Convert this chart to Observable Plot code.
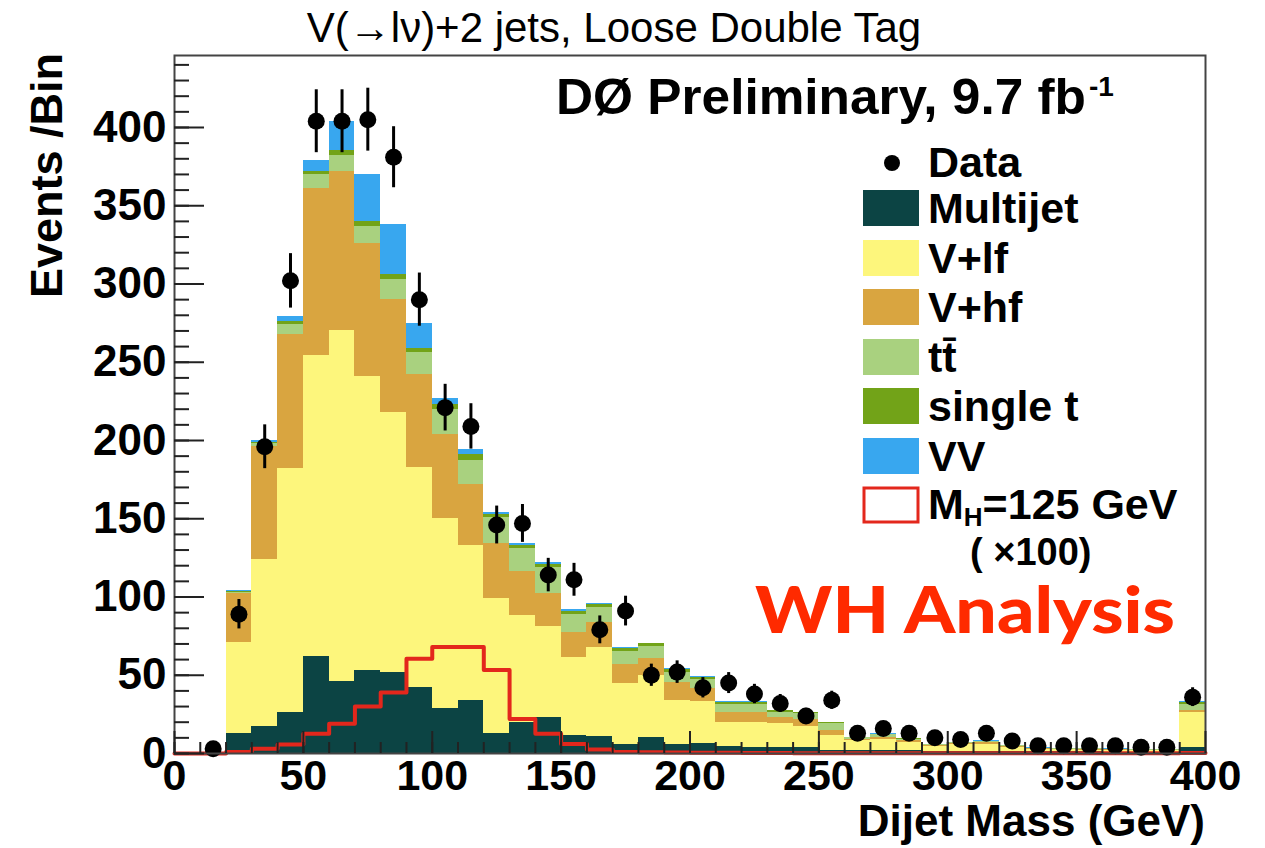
<!DOCTYPE html>
<html>
<head>
<meta charset="utf-8">
<script src="https://cdn.jsdelivr.net/npm/d3@7"></script>
<script src="https://cdn.jsdelivr.net/npm/@observablehq/plot@0.6"></script>
<style>
  html, body { margin: 0; padding: 0; background: white; }
  #chart { width: 1265px; height: 848px; }
</style>
</head>
<body>
<div id="chart"></div>
<script>
// ---- Data (events per 10 GeV bin) ----
const binLo = [0,10,20,30,40,50,60,70,80,90,100,110,120,130,140,150,160,170,180,190,
               200,210,220,230,240,250,260,270,280,290,300,310,320,330,340,350,360,370,380,390];
const binWidth = 10;

const seriesNames = ["Multijet", "V+lf", "V+hf", "tt\u0304", "single t", "VV"];
const seriesColors = ["#0c4444", "#fdf67c", "#d9a540", "#a9d17f", "#72a318", "#38a7ef"];

const multijet = [0,0,13,17,26,62,46,53,52,42, 29,34,13,20,23,11.5,11,6,10,6, 6.5,4.5,4,4,4,2,2,2,2,1.5, 1.5,1.5,1,1,1,1,0.8,0.8,0.8,4];
const vlf      = [0,0,58,107,156,192,224,188,166,141, 121,99,86,68,58,50,57,38.5,40,28, 26.5,15.5,16,15,13,9.5,6,7,5,3, 4,4.5,2.8,1.6,1.4,1.2,1.2,1.0,0.9,22];
const vhf      = [0,0,31,72,86,107,102,85,72,59, 54,39,35,28,21,15.5,16,12.5,10.5,11.5, 8.5,6.5,6.5,4,4.5,3.2,1,1.5,1,0.5, 0.8,1,0.5,0.4,0.4,0.4,0.3,0.3,0.3,1.5];
const ttbar    = [0,0,1,2,6,9,10,11,13,14, 16,15,17,15,17,12,9,8,8,6.5, 5.5,5,5,3.5,4,4.3,1,1.5,1,0.5, 0.7,0.7,0.5,0.4,0.4,0.4,0.4,0.4,0.3,4];
const singleT  = [0,0,0.5,1,2,2,3,3,3,3, 3,4,2,2,2,2,2,2,1.5,1.5, 1.5,1,1,0.7,0.7,0.7,0.3,0.4,0.3,0.2, 0.2,0.2,0.2,0.1,0.1,0.1,0.1,0.1,0.1,0.8];
const vv       = [0,0,0.5,1,3,7,19,30,32,16, 4,3,1,1,1,1,1,0.5,0.5,0.5, 0.5,0.5,0.5,0.3,0.3,0.3,0.2,0.2,0.2,0.1, 0.1,0.1,0,0.1,0.1,0.1,0.1,0.1,0.1,0.7];

const dataCounts = [0,3,89,196,302,404,404,405,381,290, 221,209,146,147,114,111,79,91,50,52, 42,45,38,32,24,34,13,16,13,10, 9,13,8,5,5,5,5,4,4,36];
const dataErrors = [0,1.7,9.4,14,17.4,20.1,20.1,20.1,19.5,17, 14.9,14.5,12.1,12.1,10.7,10.5,8.9,9.5,7.1,7.2, 6.5,6.7,6.2,5.7,4.9,5.8,3.6,4,3.6,3.2, 3,3.6,2.8,2.2,2.2,2.2,2.2,2,2,6];

// M_H = 125 GeV signal, scaled x100
const signal = [0,0,1,3,5.7,12.6,19,30,39,60.5, 68,68,53.4,22,12.6,6,2.5,1,0.8,0.6, 0.5,0.4,0.3,0.3,0.2,0.2,0.2,0.1,0.1,0.1, 0.1,0.1,0.1,0.1,0.1,0.1,0.1,0.1,0.1,0.3];

// Axis ticks
const xMajor = [0,50,100,150,200,250,300,350,400];
const xMinor = binLo;
const yMajor = [0,50,100,150,200,250,300,350,400];
const yMinor = [0,10,20,30,40,50,60,70,80,90,100,110,120,130,140,150,160,170,180,190,200,
                210,220,230,240,250,260,270,280,290,300,310,320,330,340,350,360,370,380,390,400,410,420,430,440];

// ---- Build tables ----
const seriesValues = [multijet, vlf, vhf, ttbar, singleT, vv];
const stackRows = [];
binLo.forEach((lo, i) => {
  seriesNames.forEach((s, k) => {
    stackRows.push({lo, hi: lo + binWidth, series: s, value: seriesValues[k][i]});
  });
});
const sigPts = [];
binLo.forEach((lo, i) => {
  sigPts.push({x: lo, y: signal[i]});
  sigPts.push({x: lo + binWidth, y: signal[i]});
});
const dataRows = binLo.map((lo, i) => ({
  mid: lo + binWidth / 2, v: dataCounts[i], lo: dataCounts[i] - dataErrors[i], hi: dataCounts[i] + dataErrors[i]
})).filter(d => d.v > 0);

const FONT = "'Liberation Sans', Arial, Helvetica, sans-serif";

const plot = Plot.plot({
  width: 1265,
  height: 848,
  marginLeft: 174,
  marginRight: 60,
  marginTop: 55,
  marginBottom: 95,
  x: {domain: [0, 400], label: null},
  y: {domain: [0, 446], label: null},
  color: {domain: seriesNames, range: seriesColors},
  style: {background: "white", fontFamily: FONT, color: "black"},
  marks: [
    Plot.rectY(stackRows, {x1: "lo", x2: "hi", y: "value", fill: "series", shapeRendering: "crispEdges"}),
    Plot.line(sigPts, {x: "x", y: "y", stroke: "#e3271c", strokeWidth: 4}),
    Plot.ruleX(dataRows, {x: "mid", y1: "lo", y2: "hi", stroke: "black", strokeWidth: 3}),
    Plot.dot(dataRows, {x: "mid", y: "v", r: 8.5, fill: "black"}),
    Plot.frame({stroke: "#444", strokeWidth: 2}),
    // inward ticks
    Plot.axisY({ticks: yMajor, tickSize: -30, fill: "none", stroke: "#222", strokeWidth: 2, label: null}),
    Plot.axisY({ticks: yMinor, tickSize: -15, fill: "none", stroke: "#222", strokeWidth: 2, label: null}),
    Plot.axisX({ticks: xMajor, tickSize: -22, fill: "none", stroke: "#222", strokeWidth: 2, label: null}),
    Plot.axisX({ticks: xMinor, tickSize: -11, fill: "none", stroke: "#222", strokeWidth: 2, label: null}),
    // tick labels
    Plot.axisY({ticks: yMajor, tickSize: 0, tickPadding: 8, fontSize: 44, fontWeight: "bold", label: null}),
    Plot.axisX({ticks: xMajor, tickSize: 0, tickPadding: 6, fontSize: 43, fontWeight: "bold", label: null})
  ]
});
document.getElementById("chart").appendChild(plot);

// ---- Annotations, titles and legend ----
const svg = d3.select(plot);
const g = svg.append("g").attr("font-family", FONT).attr("fill", "black").attr("text-anchor", "start");

g.append("text").attr("x", 614).attr("y", 42).attr("text-anchor", "middle")
  .attr("font-size", 42).attr("font-weight", "normal").text("V(\u2192l\u03bd)+2 jets, Loose Double Tag");

g.append("text").attr("x", 556).attr("y", 114).attr("text-anchor", "start").attr("font-size", 50).attr("font-weight", "bold")
  .attr("textLength", 530).attr("lengthAdjust", "spacingAndGlyphs").text("D\u00d8 Preliminary, 9.7 fb");
g.append("text").attr("x", 1089).attr("y", 96).attr("text-anchor", "start").attr("font-size", 28).attr("font-weight", "bold").text("-1");

g.append("text").attr("x", 1205).attr("y", 836).attr("text-anchor", "end")
  .attr("font-size", 44).attr("font-weight", "bold").text("Dijet Mass (GeV)");

g.append("text").attr("transform", "translate(62,53) rotate(-90)").attr("text-anchor", "end")
  .attr("font-size", 45).attr("font-weight", "bold").text("Events /Bin");

g.append("text").attr("x", 755).attr("y", 633).attr("text-anchor", "start").attr("font-family", "Lato, 'Open Sans', sans-serif")
  .attr("font-size", 64).attr("font-weight", 900).attr("fill", "#ff2a00")
  .attr("textLength", 420).attr("lengthAdjust", "spacingAndGlyphs").text("WH Analysis");

// Legend
const lg = g.append("g").attr("font-size", 43).attr("font-weight", "bold").attr("text-anchor", "start");
lg.append("circle").attr("cx", 892).attr("cy", 163).attr("r", 8).attr("fill", "black");
lg.append("text").attr("x", 928).attr("y", 177).attr("text-anchor", "start").text("Data");
const rowsY = [208, 258, 307, 357, 406, 456];
seriesNames.forEach((s, k) => {
  lg.append("rect").attr("x", 863).attr("y", rowsY[k] - 18).attr("width", 56).attr("height", 36)
    .attr("fill", seriesColors[k]);
  lg.append("text").attr("x", 928).attr("y", rowsY[k] + 15).attr("text-anchor", "start").text(s);
});
lg.append("rect").attr("x", 864).attr("y", 488).attr("width", 54).attr("height", 34)
  .attr("fill", "white").attr("stroke", "#e3271c").attr("stroke-width", 3);
const mh = lg.append("text").attr("x", 928).attr("y", 519).attr("text-anchor", "start");
mh.append("tspan").text("M");
mh.append("tspan").attr("font-size", 26).attr("dy", 7).text("H");
mh.append("tspan").attr("dy", -7).text("=125 GeV");
lg.append("text").attr("x", 970).attr("y", 565).attr("text-anchor", "start").attr("font-size", 38).text("( \u00d7100)");
</script>
</body>
</html>
